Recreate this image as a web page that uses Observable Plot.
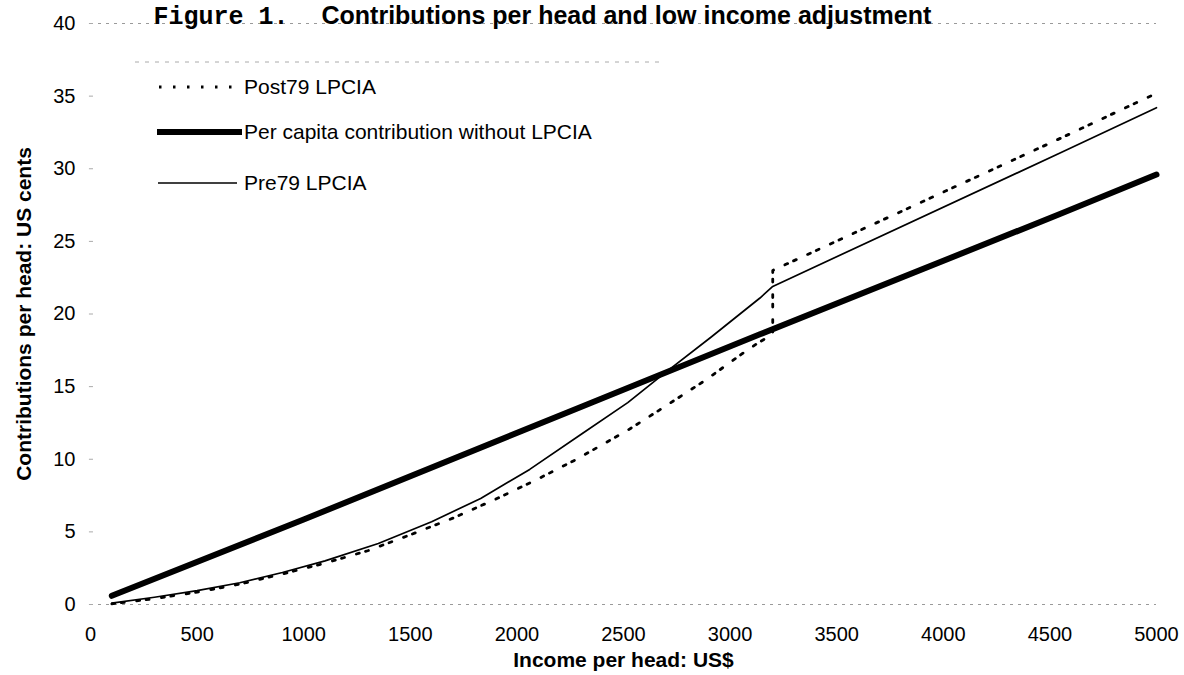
<!DOCTYPE html>
<html>
<head>
<meta charset="utf-8">
<script src="https://cdn.jsdelivr.net/npm/d3@7"></script>
<script src="https://cdn.jsdelivr.net/npm/@observablehq/plot@0.6"></script>
<style>
  html, body { margin: 0; padding: 0; background: #fff; }
  #chart svg { display: block; }
</style>
</head>
<body>
<div id="chart"></div>
<script>
// ---- data ----
const titleFig = "Figure 1.";
const titleText = "Contributions per head and low income adjustment";
const xTitle = "Income per head: US$";
const yTitle = "Contributions per head: US cents";
const xTicks = [0, 500, 1000, 1500, 2000, 2500, 3000, 3500, 4000, 4500, 5000];
const yTicks = [0, 5, 10, 15, 20, 25, 30, 35, 40];
const seriesNames = ["Post79 LPCIA", "Per capita contribution without LPCIA", "Pre79 LPCIA"];

// Per capita contribution without LPCIA (thick line)
const perCapitaIncome = [100, 1000, 2300, 3140, 4550, 5000];
const perCapitaValue  = [0.6, 5.85, 13.6, 18.6, 26.9, 29.6];

// Pre79 LPCIA (thin solid line)
const pre79Income = [100, 300, 500, 700, 900, 1100, 1350, 1600, 1830, 2060, 2300, 2520, 2690, 2910, 3140, 3200, 4550, 5000];
const pre79Value  = [0.1, 0.5, 0.95, 1.5, 2.2, 3.0, 4.2, 5.7, 7.3, 9.3, 11.7, 13.9, 15.9, 18.4, 21.1, 21.9, 31.1, 34.2];

// Post79 LPCIA (dotted line, jumps at 3200)
const post79Income = [100, 300, 500, 700, 900, 1100, 1300, 1500, 1700, 1900, 2100, 2280, 2520, 2670, 2880, 3060, 3130, 3200, 3200, 4550, 5000];
const post79Value  = [0.05, 0.4, 0.85, 1.4, 2.1, 2.85, 3.7, 4.8, 5.95, 7.25, 8.65, 10.0, 12.0, 13.4, 15.4, 17.3, 18.0, 18.6, 23.0, 32.1, 35.2];

const toRows = (xs, ys) => xs.map((x, i) => ({x, y: ys[i]}));
const perCapita = toRows(perCapitaIncome, perCapitaValue);
const pre79 = toRows(pre79Income, pre79Value);
const post79 = toRows(post79Income, post79Value);

const W = 1184, H = 675;
const ML = 90, MR = 28, MT = 23, MB = 71;
const dotted = "3,6.5,3,12.5";

const chart = Plot.plot({
  width: W,
  height: H,
  marginLeft: ML,
  marginRight: MR,
  marginTop: MT,
  marginBottom: MB,
  style: {fontFamily: "'Liberation Sans', Arial, sans-serif", fontSize: "20px", background: "#fff", color: "#000", overflow: "visible"},
  x: {domain: [0, 5000]},
  y: {domain: [0, 40]},
  marks: [
    // faint scanned border lines at 0 and 40
    Plot.ruleY([0, 40], {stroke: "#9a9a9a", strokeWidth: 1, strokeDasharray: "3,5"}),
    // tiny tick marks on the y axis
    Plot.ruleY(yTicks, {x1: -5, x2: 14, stroke: "#aaa", strokeWidth: 1}),
    Plot.axisY({ticks: yTicks, tickSize: 0, tickPadding: 15, label: null, tickFormat: d3.format("d"), fontSize: 20}),
    Plot.axisX({ticks: xTicks, tickSize: 0, tickPadding: 22, label: null, tickFormat: d3.format("d"), fontSize: 20}),
    Plot.line(pre79, {x: "x", y: "y", stroke: "#000", strokeWidth: 1.7}),
    Plot.line(post79, {x: "x", y: "y", stroke: "#000", strokeWidth: 2.8, strokeDasharray: dotted}),
    Plot.line(perCapita, {x: "x", y: "y", stroke: "#000", strokeWidth: 6, strokeLinecap: "round"}),
    // axis titles
    Plot.text([xTitle], {text: d => d, frameAnchor: "bottom", textAnchor: "middle", lineAnchor: "middle", dy: 56, fontWeight: "bold", fontSize: 21}),
    Plot.text([yTitle], {text: d => d, frameAnchor: "left", textAnchor: "middle", lineAnchor: "middle", rotate: -90, dx: -66, fontWeight: "bold", fontSize: 21}),
    // title
    Plot.text([titleFig], {text: d => d, frameAnchor: "top-left", textAnchor: "start", lineAnchor: "bottom", dx: 153 - ML, dy: 23 - MT, fontFamily: "'Liberation Mono', 'Courier New', monospace", fontWeight: "bold", fontSize: 25}),
    Plot.text([titleText], {text: d => d, frameAnchor: "top-left", textAnchor: "start", lineAnchor: "bottom", dx: 321 - ML, dy: 23 - MT, fontWeight: "bold", fontSize: 25})
  ]
});

document.getElementById("chart").appendChild(chart);

// ---- legend (drawn on top of the svg) ----
const svg = d3.select(chart);
const lg = svg.append("g").attr("class", "legend").attr("text-anchor", "start");
lg.append("line").attr("x1", 135).attr("x2", 660).attr("y1", 62).attr("y2", 62)
  .attr("stroke", "#aaa").attr("stroke-dasharray", "4,6");
const items = [
  {name: seriesNames[0], y: 87, width: 2.8, dash: "2.5,11.5", x1: 159, x2: 243},
  {name: seriesNames[1], y: 132, width: 6, dash: null, x1: 157, x2: 242},
  {name: seriesNames[2], y: 183, width: 1.7, dash: null, x1: 158, x2: 237}
];
items.forEach(it => {
  const l = lg.append("line").attr("x1", it.x1).attr("x2", it.x2).attr("y1", it.y).attr("y2", it.y)
    .attr("stroke", "#000").attr("stroke-width", it.width);
  if (it.dash) l.attr("stroke-dasharray", it.dash);
  lg.append("text").attr("x", 244).attr("y", it.y).attr("dy", "0.35em")
    .attr("text-anchor", "start")
    .attr("font-family", "'Liberation Sans', Arial, sans-serif").attr("font-size", 21)
    .attr("fill", "#000").text(it.name);
});
</script>
</body>
</html>
